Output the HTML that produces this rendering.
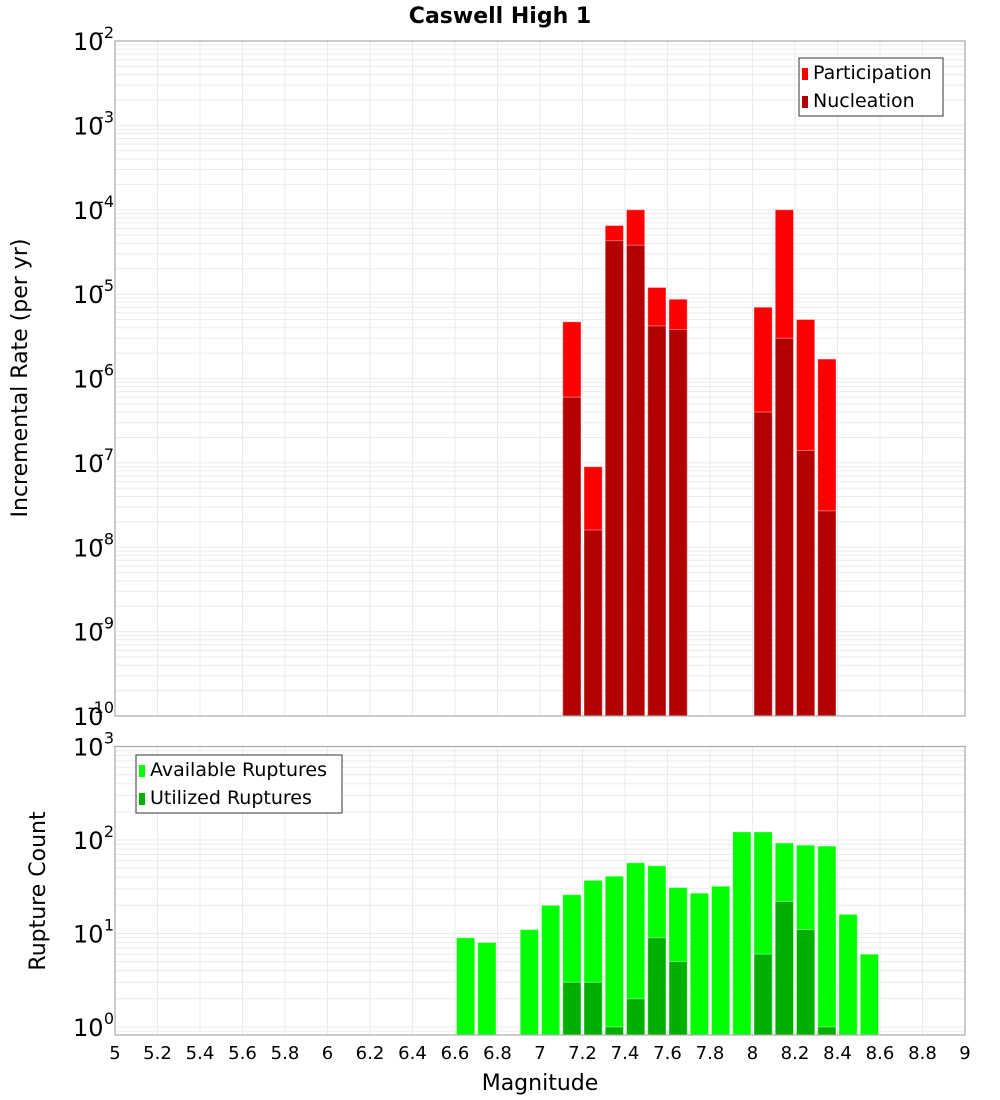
<!DOCTYPE html>
<html><head><meta charset="utf-8"><style>
html,body{margin:0;padding:0;background:#fff;}
svg{display:block;font-family:"DejaVu Sans","Liberation Sans",sans-serif;}
</style></head><body>
<svg id="chart" width="1000" height="1100" xmlns="http://www.w3.org/2000/svg">
<text x="500" y="23" text-anchor="middle" font-size="22" font-weight="bold">Caswell High 1</text>
<g id="topPanel"></g><g id="botPanel"></g><g id="xaxis"></g>
<text transform="translate(27,378) rotate(-90)" text-anchor="middle" font-size="22">Incremental Rate (per yr)</text>
<text transform="translate(45,891) rotate(-90)" text-anchor="middle" font-size="22">Rupture Count</text>
<text x="540" y="1090" text-anchor="middle" font-size="22">Magnitude</text>
</svg>
<script>
const binCenters=[6.65,6.75,6.85,6.95,7.05,7.15,7.25,7.35,7.45,7.55,7.65,7.75,7.85,7.95,8.05,8.15,8.25,8.35,8.45,8.55];
const participation=[0,0,0,0,0,4.7e-6,9e-8,6.5e-5,1e-4,1.2e-5,8.7e-6,0,0,0,7e-6,1e-4,5e-6,1.7e-6,0,0];
const nucleation=[0,0,0,0,0,6e-7,1.6e-8,4.3e-5,3.8e-5,4.2e-6,3.8e-6,0,0,0,4e-7,3e-6,1.4e-7,2.7e-8,0,0];
const available=[9,8,0,11,20,26,37,41,57,53,31,27,32,122,122,93,88,86,16,6];
const utilized=[0,0,0,0,0,3,3,1,2,9,5,0,0,0,6,22,11,1,0,0];
const xTicks=[5,5.2,5.4,5.6,5.8,6,6.2,6.4,6.6,6.8,7,7.2,7.4,7.6,7.8,8,8.2,8.4,8.6,8.8,9];
const topExp=[-2,-3,-4,-5,-6,-7,-8,-9,-10];
const botExp=[3,2,1,0];
const NS="http://www.w3.org/2000/svg";
const X0=115,X1=965,xmin=5,xmax=9;
const xs=v=>X0+(v-xmin)/(xmax-xmin)*(X1-X0);
function mk(tag,attrs,parent,txt){const e=document.createElementNS(NS,tag);for(const k in attrs)e.setAttribute(k,attrs[k]);if(txt!==undefined)e.textContent=txt;parent.appendChild(e);return e;}
function panel(g,yTop,yBot,lmax,lmin,name){
  const ys=v=>yTop+(lmax-Math.log10(v))/(lmax-lmin)*(yBot-yTop);
  mk('rect',{x:X0,y:yTop,width:X1-X0,height:yBot-yTop,fill:'#fff'},g);
  for(let d=Math.floor(lmin);d<lmax;d++){for(let m=1;m<10;m++){const v=m*Math.pow(10,d);const y=ys(v);if(y<yTop-0.5||y>yBot+0.5)continue;
    const l=mk('line',{x1:X0,x2:X1,y1:y,y2:y,stroke:'#ebebeb','stroke-width':1},g);
    
    }}
  xTicks.forEach(t=>{const x=xs(t);
    const l=mk('line',{x1:x,x2:x,y1:yTop,y2:yBot,stroke:'#ebebeb','stroke-width':1},g);
    
    });
  return ys;
}
function bars(g,vals,ys,yBot,color,name){
  vals.forEach((v,i)=>{if(!(v>0))return;const c=binCenters[i];const xa=xs(c-0.05)+1.5,xb=xs(c+0.05)-1.5;const y=ys(v);
    const r=mk('rect',{x:xa,y:y,width:xb-xa,height:yBot-y,fill:color,stroke:'#fff','stroke-opacity':0.4,'stroke-width':1},g);
    
    });
}
function yLabels(g,exps,ys,name){
  exps.forEach(e=>{const y=ys(Math.pow(10,e));
    const t=mk('text',{x:73,y:y+9,'font-size':24},g,'10');
    
    
    const s=mk('text',{x:114,y:y-3,'font-size':16,'text-anchor':'end'},g,String(e));
    
    });
}
function legend(g,x,y,w,items,name){
  const b=mk('rect',{x:x,y:y,width:w,height:58,fill:'#fff',stroke:'#333','stroke-width':1},g);
  
  
  items.forEach((it,i)=>{const yy=y+15+i*28;
    const sw=mk('rect',{x:x+3,y:yy-5,width:6,height:12,fill:it[1]},g);
    
    
    const t=mk('text',{x:x+14,y:yy+6,'font-size':19},g,it[0]);
    
    });
}
const gTop=document.getElementById('topPanel'),gBot=document.getElementById('botPanel'),gX=document.getElementById('xaxis');
const ysT=panel(gTop,41,716,-2,-10,'top');
bars(gTop,participation,ysT,716,'#ff0000','participation');
bars(gTop,nucleation,ysT,716,'#b30000','nucleation');
mk('rect',{x:X0,y:41,width:X1-X0,height:675,fill:'none',stroke:'#aaa','stroke-width':1.2},gTop);
yLabels(gTop,topExp,ysT,'top-y');
legend(gTop,799,58,144,[['Participation','#ff0000'],['Nucleation','#b30000']],'top-legend');
const ysB=panel(gBot,746.5,1035,3,Math.log10(0.82),'bottom');
bars(gBot,available,ysB,1035,'#00ff00','available');
bars(gBot,utilized,ysB,1035,'#00b000','utilized');
mk('rect',{x:X0,y:746.5,width:X1-X0,height:288.5,fill:'none',stroke:'#aaa','stroke-width':1.2},gBot);
yLabels(gBot,botExp,ysB,'bottom-y');
legend(gBot,136,755,206,[['Available Ruptures','#00ff00'],['Utilized Ruptures','#00b000']],'bottom-legend');
xTicks.forEach(t=>{const tx=mk('text',{x:xs(t),y:1059,'font-size':18,'text-anchor':'middle'},gX,String(t));
  
  });
</script>
</body></html>
